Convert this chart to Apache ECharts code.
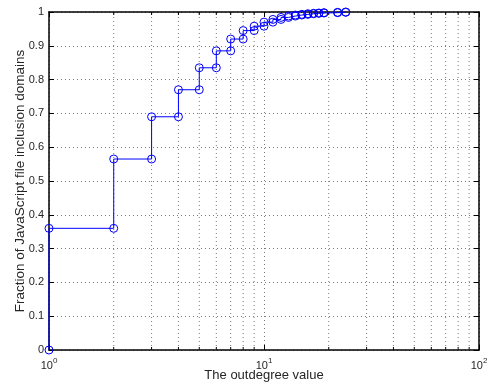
<!DOCTYPE html>
<html><head><meta charset="utf-8">
<script src="https://cdn.jsdelivr.net/npm/echarts@6/dist/echarts.min.js"></script>
<style>html,body{margin:0;padding:0;background:#fff}#c{width:487px;height:387px}</style>
</head><body><div id="c"></div>
<script>
const degrees = [1,2,3,4,5,6,7,8,9,10,11,12,13,14,15,16,17,18,19,22,24];
const fractions = [0.36,0.565,0.69,0.77,0.835,0.885,0.92,0.945,0.958,0.97,0.978,0.984,0.988,0.991,0.993,0.995,0.996,0.997,0.998,0.999,1.0];
const startFraction = 0;
const xMinor = [2,3,4,5,6,7,8,9,20,30,40,50,60,70,80,90];
const yTicks = [0,0.1,0.2,0.3,0.4,0.5,0.6,0.7,0.8,0.9,1];

// stair vertices (markers on every corner, as in MATLAB stairs)
const vertices = [[degrees[0], startFraction]];
let prev = startFraction;
degrees.forEach((d, i) => {
  if (i > 0) vertices.push([d, prev]);
  vertices.push([d, fractions[i]]);
  prev = fractions[i];
});

const FONT = "'Liberation Sans', Arial, Helvetica, sans-serif";
const TXT = '#262626';
const dotted = {color: '#7a7a7a', width: 1, type: [1, 3]};

const chart = echarts.init(document.getElementById('c'), null, {renderer: 'canvas'});
chart.setOption({
  animation: false,
  backgroundColor: '#fff',
  grid: {left: 49, right: 8, top: 12, bottom: 37, containLabel: false, outerBoundsMode: 'none'},
  xAxis: [{
    type: 'log', logBase: 10, min: 1, max: 100, position: 'bottom',
    axisLine: {show: true, onZero: false, lineStyle: {color: '#000', width: 1.5}},
    axisTick: {show: true, inside: true, length: 5, lineStyle: {color: '#000'}},
    splitLine: {show: true, lineStyle: dotted},
    axisLabel: {
      margin: 7, color: TXT, fontFamily: FONT,
      formatter: v => '{b|10}{s|' + Math.round(Math.log10(v)) + '}',
      rich: {
        b: {fontSize: 11, fontFamily: FONT, color: TXT, lineHeight: 14, verticalAlign: 'bottom'},
        s: {fontSize: 8, fontFamily: FONT, color: TXT, lineHeight: 14, verticalAlign: 'top'}
      }
    },
    name: 'The outdegree value', nameLocation: 'middle', nameGap: 19, nameMoveOverlap: false,
    nameTextStyle: {fontSize: 13, fontFamily: FONT, color: TXT}
  }, {
    type: 'log', logBase: 10, min: 1, max: 100, position: 'top',
    axisLine: {show: true, onZero: false, lineStyle: {color: '#000', width: 1.5}},
    axisTick: {show: true, inside: true, length: 5, lineStyle: {color: '#000'}},
    splitLine: {show: false}, axisLabel: {show: false}
  }],
  yAxis: [{
    type: 'value', min: 0, max: 1, interval: 0.1, position: 'left',
    axisLine: {show: true, onZero: false, lineStyle: {color: '#000', width: 1.5}},
    axisTick: {show: true, inside: true, length: 5, lineStyle: {color: '#000'}},
    splitLine: {show: true, lineStyle: dotted},
    axisLabel: {margin: 5, fontSize: 11, fontFamily: FONT, color: TXT,
      formatter: v => String(parseFloat(v.toFixed(1)))},
    name: 'Fraction of JavaScript file inclusion domains', nameLocation: 'middle', nameGap: 22, nameMoveOverlap: false,
    nameTextStyle: {fontSize: 13.5, fontFamily: FONT, color: TXT}
  }, {
    type: 'value', min: 0, max: 1, interval: 0.1, position: 'right',
    axisLine: {show: true, onZero: false, lineStyle: {color: '#000', width: 1.5}},
    axisTick: {show: true, inside: true, length: 5, lineStyle: {color: '#000'}},
    splitLine: {show: false}, axisLabel: {show: false}
  }],
  series: [{
    type: 'custom', xAxisIndex: 0, yAxisIndex: 0, z: 1, silent: true,
    data: xMinor.map(v => [v, 0]),
    renderItem: (params, api) => {
      const x = api.value(0);
      const b = api.coord([x, 0]);
      const t = api.coord([x, 1]);
      return {type: 'group', children: [
        {type: 'line', shape: {x1: b[0], y1: b[1], x2: t[0], y2: t[1]}, style: {stroke: '#7a7a7a', lineWidth: 1, lineDash: [1, 3]}},
        {type: 'line', shape: {x1: b[0], y1: b[1], x2: b[0], y2: b[1] - 3}, style: {stroke: '#000', lineWidth: 1}},
        {type: 'line', shape: {x1: t[0], y1: t[1], x2: t[0], y2: t[1] + 3}, style: {stroke: '#000', lineWidth: 1}}
      ]};
    }
  }, {
    type: 'line', xAxisIndex: 0, yAxisIndex: 0, z: 5, clip: false,
    data: vertices,
    symbol: 'circle', symbolSize: 8, showAllSymbol: true,
    lineStyle: {color: '#0000ff', width: 1},
    itemStyle: {color: 'rgba(0,0,0,0)', borderColor: '#0000ff', borderWidth: 1}
  }]
});
</script>
</body></html>
